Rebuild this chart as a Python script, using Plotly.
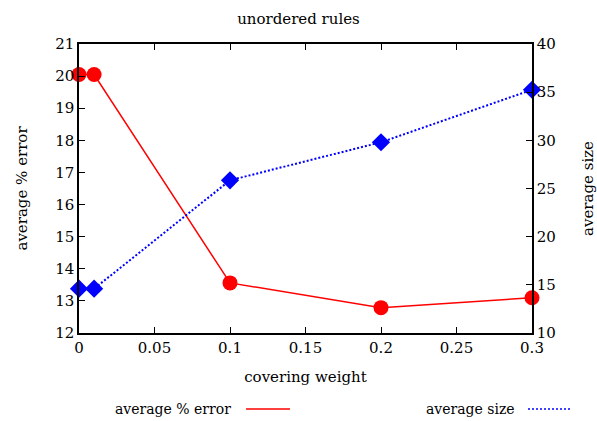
import plotly.graph_objects as go

weights = [0, 0.01, 0.1, 0.2, 0.3]
avg_error = [20.05, 20.05, 13.56, 12.79, 13.1]
avg_size = [14.6, 14.6, 25.85, 29.8, 35.25]

FONT = "DejaVu Serif"
fs = 15

fig = go.Figure()
fig.add_trace(go.Scatter(x=weights, y=avg_error, mode="lines+markers",
                         line=dict(color="#ff0000", width=1.5),
                         marker=dict(symbol="circle", size=15, color="#ff0000"),
                         name="average % error", showlegend=False, cliponaxis=False))
fig.add_trace(go.Scatter(x=weights, y=avg_size, mode="lines+markers", yaxis="y2",
                         line=dict(color="#0000ff", width=2, dash="2px,2px"),
                         marker=dict(symbol="diamond", size=14, color="#0000ff"),
                         name="average size", showlegend=False, cliponaxis=False))

axis_common = dict(showline=True, linecolor="black", linewidth=1.5, ticks="inside",
                   ticklen=6, tickcolor="black", tickwidth=1, showgrid=False, zeroline=False,
                   automargin=False,
                   tickfont=dict(family=FONT, size=fs, color="black"))

fig.update_layout(
    width=597, height=421,
    margin=dict(l=79, r=65, t=44, b=88),
    paper_bgcolor="white", plot_bgcolor="white",
    font=dict(family=FONT, size=fs, color="black"),
    title=dict(text="unordered rules", x=0.5, xanchor="center", y=0.955, yanchor="middle",
               font=dict(family=FONT, size=fs, color="black")),
    xaxis=dict(range=[0, 0.3], tickvals=[0, 0.05, 0.1, 0.15, 0.2, 0.25, 0.3],
               ticktext=["0", "0.05", "0.1", "0.15", "0.2", "0.25", "0.3"],
               mirror="ticks", title=dict(text="covering weight", standoff=16,
                                          font=dict(family=FONT, size=fs)), **axis_common),
    yaxis=dict(range=[12, 21], dtick=1, mirror=True,
               title=dict(text="average % error", standoff=24, font=dict(family=FONT, size=fs)),
               **axis_common),
    yaxis2=dict(range=[10, 40], dtick=5, overlaying="y", side="right",
                title=dict(text="average size", standoff=30, font=dict(family=FONT, size=fs)),
                **axis_common),
    showlegend=False,
)

# manual legend (text left of sample, gnuplot style)
fig.add_annotation(xref="paper", yref="paper", x=0.340, y=-0.263, text="average % error",
                   showarrow=False, xanchor="right", yanchor="middle",
                   font=dict(family=FONT, size=14, color="black"))
fig.add_shape(type="line", xref="paper", yref="paper", x0=0.3687, x1=0.4658, y0=-0.263, y1=-0.263,
              line=dict(color="#ff0000", width=1.5))
fig.add_annotation(xref="paper", yref="paper", x=0.9669, y=-0.263, text="average size",
                   showarrow=False, xanchor="right", yanchor="middle",
                   font=dict(family=FONT, size=14, color="black"))
fig.add_shape(type="line", xref="paper", yref="paper", x0=0.9912, x1=1.0883, y0=-0.263, y1=-0.263,
              line=dict(color="#0000ff", width=1.5, dash="2px,2px"))

fig.write_html("out.html", config={"displayModeBar": False},
               post_script="document.body.style.margin='0';document.body.style.padding='0';")
